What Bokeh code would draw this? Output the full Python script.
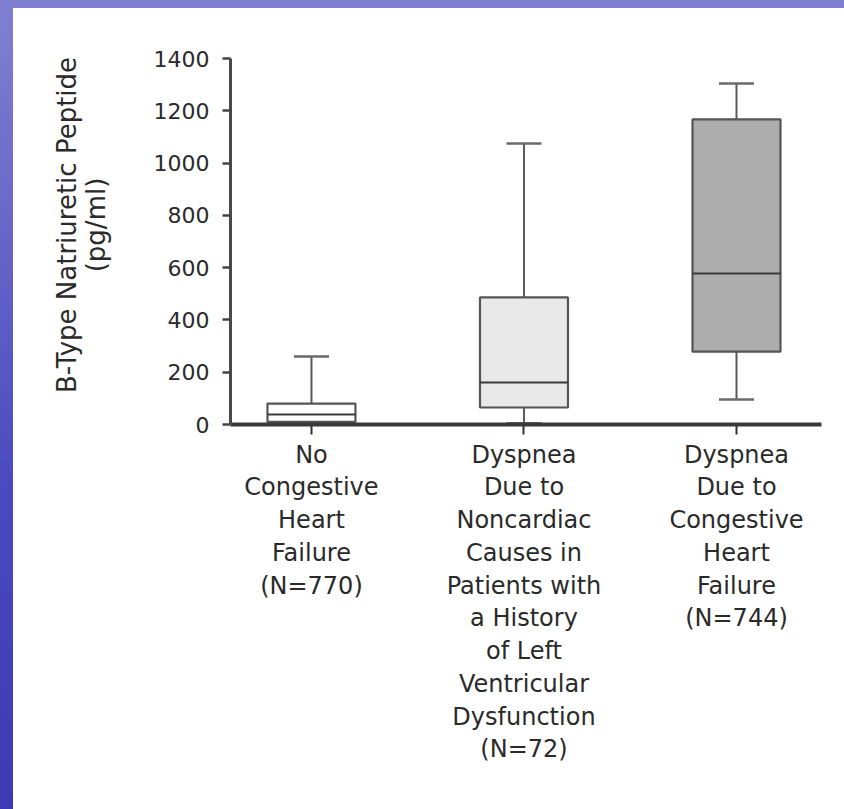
from bokeh.plotting import figure
from bokeh.models import Range1d, FixedTicker
from bokeh.layouts import column
from bokeh.embed import file_html
from bokeh.resources import INLINE
import numpy as np

# ---- data (pg/ml) ----
groups = [
    "No\nCongestive\nHeart\nFailure\n(N=770)",
    "Dyspnea\nDue to\nNoncardiac\nCauses in\nPatients with\na History\nof Left\nVentricular\nDysfunction\n(N=72)",
    "Dyspnea\nDue to\nCongestive\nHeart\nFailure\n(N=744)",
]
positions = [1, 2, 3]
lower_whisker = [0, 5, 96]
q1 = [10, 65, 279]
median = [38, 161, 578]
q3 = [80, 486, 1167]
upper_whisker = [260, 1075, 1304]
box_fill = ["#ffffff", "#e9e9e9", "#adadad"]
y_ticks = [0, 200, 400, 600, 800, 1000, 1200, 1400]
y_title = ["B-Type Natriuretic Peptide", "(pg/ml)"]

FONT = "DejaVu Sans"
TXT = "#2a2a2a"

p = figure(
    frame_width=591, frame_height=366,
    min_border_left=217, min_border_right=23, min_border_top=50, min_border_bottom=385,
    x_range=Range1d(0.619, 3.4), y_range=Range1d(0, 1400),
    output_backend="svg", toolbar_location=None,
    background_fill_color="white", border_fill_color="white",
    margin=(8, 0, 0, 13),
    styles={"background-color": "white"},
)
p.outline_line_color = None
p.grid.visible = False

pos = np.array(positions, dtype=float)
box_w = 0.414
cap_w = 0.165

# whiskers
p.segment(x0=pos, y0=q3, x1=pos, y1=upper_whisker, line_color="#5a5a5a", line_width=2)
p.segment(x0=pos, y0=lower_whisker, x1=pos, y1=q1, line_color="#5a5a5a", line_width=2)
p.segment(x0=pos - cap_w / 2, y0=upper_whisker, x1=pos + cap_w / 2, y1=upper_whisker,
          line_color="#6a6a6a", line_width=2.5)
p.segment(x0=pos - cap_w / 2, y0=lower_whisker, x1=pos + cap_w / 2, y1=lower_whisker,
          line_color="#6a6a6a", line_width=2.5)
# boxes
p.vbar(x=pos, width=box_w, bottom=q1, top=q3, fill_color=box_fill,
       line_color="#555555", line_width=2.2)
# medians
p.segment(x0=pos - box_w / 2, y0=median, x1=pos + box_w / 2, y1=median,
          line_color="#3a3a3a", line_width=2)

# axes
xa = p.xaxis[0]
xa.ticker = FixedTicker(ticks=positions)
xa.major_label_overrides = {k: g for k, g in zip(positions, groups)}
xa.minor_tick_line_color = None
xa.major_tick_in = 0
xa.major_tick_out = 10
xa.major_tick_line_width = 2
xa.major_tick_line_color = "#333333"
xa.axis_line_width = 4
xa.axis_line_color = "#3a3a3a"
xa.major_label_text_font = FONT
xa.major_label_text_font_size = "24px"
xa.major_label_text_color = TXT
xa.major_label_text_line_height = 1.17
xa.major_label_standoff = 6

ya = p.yaxis[0]
ya.ticker = FixedTicker(ticks=y_ticks)
ya.minor_tick_line_color = None
ya.major_tick_in = 0
ya.major_tick_out = 8
ya.major_tick_line_width = 2.5
ya.major_tick_line_color = "#444444"
ya.axis_line_width = 3
ya.axis_line_color = "#4a4a4a"
ya.major_label_text_font = FONT
ya.major_label_text_font_size = "22px"
ya.major_label_text_color = TXT
ya.major_label_standoff = 13
pad = "\u00a0" * 4
ya.axis_label = "\n".join(pad + t for t in y_title)
ya.axis_label_text_font = FONT
ya.axis_label_text_font_size = "26px"
ya.axis_label_text_font_style = "normal"
ya.axis_label_text_color = TXT
ya.axis_label_text_line_height = 0.95
ya.axis_label_standoff = 40

layout = column(p, styles={"background": "linear-gradient(#8080d2, #4a4ac0 60%, #3a3ab4)"})

open("out.html", "w").write(file_html(layout, INLINE))
